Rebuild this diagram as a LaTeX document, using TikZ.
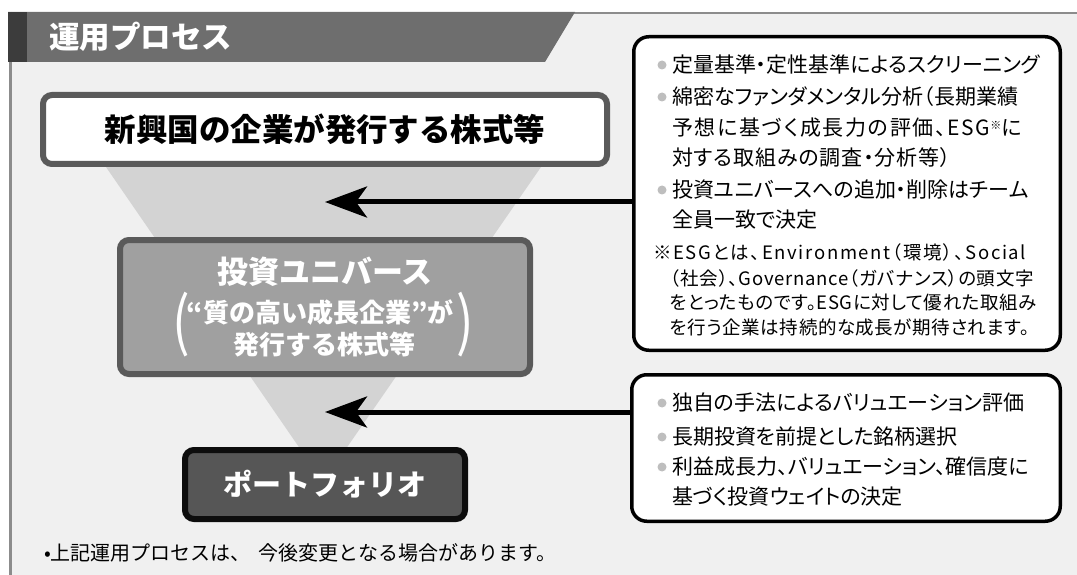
\documentclass[tikz,border=0pt]{standalone}
\usepackage{fontspec}
\usepackage{graphicx}
\setmainfont{Noto Sans CJK JP}
\newfontfamily\pfont{Noto Sans CJK JP}[RawFeature={+palt}]
\usepackage{tikz}
\usetikzlibrary{arrows,arrows.meta,shapes,calc}
\usetikzlibrary{positioning}
\definecolor{bggray}{HTML}{F0F0F0}
\definecolor{framegray}{HTML}{8C8C8C}
\definecolor{headgray}{HTML}{6E6E6E}
\definecolor{stripgray}{HTML}{3C3C3C}
\definecolor{funnelgray}{HTML}{D3D3D3}
\definecolor{edgegray}{HTML}{5A5A5A}
\definecolor{unigray}{HTML}{A0A0A0}
\definecolor{pfgray}{HTML}{565656}
\definecolor{dotgray}{HTML}{BEBEBE}
\tikzstyle{hit}=[-{Stealth[length=42pt,width=31pt,inset=11pt]},line width=5pt]
\tikzstyle{lbox}=[draw,line width=6pt,rounded corners=9pt,inner sep=0]
\tikzstyle{rbox}=[draw=black,fill=white,line width=3.5pt,rounded corners=15pt,inner sep=0]
\tikzstyle{dot}=[circle,fill=dotgray,minimum size=9pt,inner sep=0]
\tikzstyle{body}=[anchor=west,inner sep=0,font=\pfont\fontsize{21}{24}\selectfont]
\tikzstyle{note}=[anchor=west,inner sep=0,font=\pfont\fontsize{18.5}{20}\selectfont]

\begin{document}
\begin{tikzpicture}[x=1pt,y=-1pt]
\useasboundingbox (0,0) rectangle (1077,575);
% frame and header
\fill[bggray] (10,12) rectangle (1077,575);
\draw[framegray,line width=2.5pt] (10,13) -- (1077,13);
\draw[framegray,line width=3pt] (10,12) -- (10,575);
\fill[headgray] (8,12) -- (575,12) -- (545,62) -- (8,62) -- cycle;
\fill[stripgray] (8,12) rectangle (27,62);
\node[anchor=west,inner sep=0,text=white,font=\fontsize{30.5}{32}\selectfont\bfseries]
  (title) at (49,37) {運用プロセス};
% funnel
\fill[funnelgray] (106,167) -- (541,167) -- (323,482) -- cycle;
% left boxes
\node[lbox,draw=edgegray,fill=white,minimum width=564pt,minimum height=69pt,
  font=\fontsize{31.5}{34}\selectfont\bfseries] (mkt) at (325,129.5) {新興国の企業が発行する株式等};
\node[lbox,draw=edgegray,fill=unigray,minimum width=410pt,minimum height=134pt] (uni) at (325,307) {};
\node[inner sep=0,text=white,font=\fontsize{31}{34}\selectfont\bfseries] (unit) at (325,272) {投資ユニバース};
\node[inner sep=0,text=white,font=\fontsize{26}{28}\selectfont\bfseries] (unia) at (320,313) {“質の高い成長企業”が};
\node[inner sep=0,text=white,font=\fontsize{26}{28}\selectfont\bfseries] (unib) at (324,345) {発行する株式等};
\node[inner sep=0,text=white] (lp) at (181,325) {\scalebox{1.3}[1.6]{\fontsize{40}{40}\selectfont(}};
\node[inner sep=0,text=white] (rp) at (465,325) {\scalebox{1.3}[1.6]{\fontsize{40}{40}\selectfont)}};
\node[lbox,draw=black!95,fill=pfgray,minimum width=280pt,minimum height=69pt,text=white,
  font=\fontsize{29}{32}\selectfont\bfseries] (pf) at (325,484.5) {ポートフォリオ};
% right boxes
\node[rbox,minimum width=426.5pt,minimum height=313.5pt] (ra) at (847,193.5) {};
\node[rbox,minimum width=428.5pt,minimum height=146.5pt] (rb) at (846,448) {};
\foreach \y in {65,97,190,403,437,467}
  \node[dot] (d\y) at (662,\y) {};
\node[body] (a1) at (672,65) {定量基準・定性基準によるスクリーニング};
\node[body] (a2) at (672,97) {綿密なファンダメンタル分析（長期業績};
\node[body] (a3) at (672,128) {\addfontfeature{LetterSpace=8}予想に基づく成長力の評価、ESG\raisebox{6pt}{\fontsize{11}{11}\selectfont ※}に};
\node[body] (a4) at (672,158) {\addfontfeature{LetterSpace=4}対する取組みの調査・分析等）};
\node[body] (a5) at (672,190) {投資ユニバースへの追加・削除はチーム};
\node[body] (a6) at (672,220) {全員一致で決定};
\node[note] (n1) at (653,252) {\addfontfeature{LetterSpace=9}※ESGとは、Environment（環境）、Social};
\node[note] (n2) at (670,278) {\addfontfeature{LetterSpace=4}（社会）、Governance（ガバナンス）の頭文字};
\node[note] (n3) at (670,303) {\addfontfeature{LetterSpace=3}をとったものです。ESGに対して優れた取組み};
\node[note] (n4) at (670,327) {\addfontfeature{LetterSpace=3}を行う企業は持続的な成長が期待されます。};
\node[body] (b1) at (672,403) {独自の手法によるバリュエーション評価};
\node[body] (b2) at (672,437) {長期投資を前提とした銘柄選択};
\node[body] (b3) at (672,467) {利益成長力、バリュエーション、確信度に};
\node[body] (b4) at (672,497) {基づく投資ウェイトの決定};
% arrows
\coordinate (tipa) at (325,202);
\coordinate (tipb) at (325,412);
\draw[hit] (ra.west |- tipa) -- (tipa);
\draw[hit] (rb.west |- tipb) -- (tipb);
% footnote
\node[anchor=west,inner sep=0,font=\fontsize{20}{22}\selectfont] (foot) at (44,553)
  {•上記運用プロセスは、\hspace{8pt}今後変更となる場合があります。};
\end{tikzpicture}
\end{document}
